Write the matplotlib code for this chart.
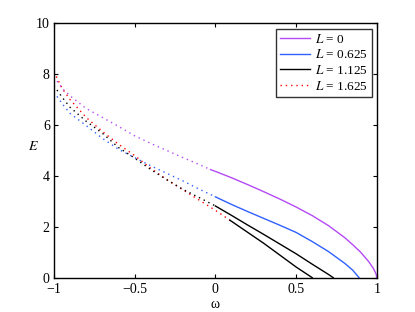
import numpy as np
import matplotlib
matplotlib.use("Agg")
import matplotlib.pyplot as plt

plt.rcParams["font.family"] = ["Liberation Serif", "DejaVu Serif"]
plt.rcParams["mathtext.fontset"] = "stix"

# Curve data: dotted branch (omega < ~0), solid branch
# L = 0
w0_dot = [-1.0, -0.95, -0.9, -0.8, -0.7, -0.6, -0.5, -0.4, -0.3, -0.2, -0.1, -0.03]
e0_dot = [7.9, 7.45, 7.15, 6.65, 6.3, 5.95, 5.58, 5.28, 5.0, 4.72, 4.45, 4.25]
w0_sol = [-0.03, 0.0, 0.1, 0.2, 0.3, 0.4, 0.5, 0.6, 0.7, 0.8, 0.85, 0.9, 0.95, 0.98, 0.995, 1.0]
e0_sol = [4.25, 4.18, 3.93, 3.66, 3.38, 3.09, 2.78, 2.44, 2.05, 1.58, 1.3, 1.0, 0.63, 0.35, 0.15, 0.0]

# L = 0.625
w1_dot = [-1.0, -0.95, -0.9, -0.8, -0.7, -0.6, -0.5, -0.4, -0.3, -0.2, -0.1, 0.0]
e1_dot = [7.3, 6.85, 6.46, 5.98, 5.48, 5.05, 4.72, 4.4, 4.1, 3.8, 3.48, 3.18]
w1_sol = [0.0, 0.1, 0.2, 0.3, 0.4, 0.5, 0.6, 0.7, 0.8, 0.85, 0.89]
e1_sol = [3.18, 2.88, 2.6, 2.33, 2.06, 1.78, 1.42, 1.03, 0.57, 0.3, 0.0]

# L = 1.125
w2_dot = [-1.0, -0.95, -0.9, -0.8, -0.7, -0.6, -0.5, -0.4, -0.3, -0.2, -0.1, 0.0]
e2_dot = [7.55, 7.1, 6.7, 6.15, 5.68, 5.12, 4.7, 4.25, 3.85, 3.47, 3.15, 2.82]
w2_sol = [0.0, 0.1, 0.2, 0.3, 0.4, 0.5, 0.6, 0.7, 0.73]
e2_sol = [2.82, 2.45, 2.07, 1.7, 1.32, 0.94, 0.53, 0.13, 0.0]

# L = 1.625
w3_dot = [-1.0, -0.95, -0.9, -0.8, -0.7, -0.6, -0.5, -0.4, -0.3, -0.2, -0.1, 0.0, 0.09]
e3_dot = [8.1, 7.45, 7.0, 6.3, 5.75, 5.25, 4.8, 4.3, 3.85, 3.45, 3.05, 2.65, 2.26]
w3_sol = [0.09, 0.3, 0.5, 0.6]
e3_sol = [2.26, 1.35, 0.42, 0.0]

labels = ["0", "0.625", "1.125", "1.625"]
purple = "#b44af5"
blue = "#3060ff"
dots = (0, (1, 2.8))

fig = plt.figure(figsize=(4.15, 3.12), dpi=100)
ax = fig.add_axes([0.13, 0.11, 0.778, 0.815])

ax.plot(w0_sol, e0_sol, color=purple, lw=1.0, label="$L$ = " + labels[0])
ax.plot(w1_sol, e1_sol, color=blue, lw=1.0, label="$L$ = " + labels[1])
ax.plot(w2_sol, e2_sol, color="black", lw=1.0, label="$L$ = " + labels[2])
ax.plot(w3_dot, e3_dot, color="red", lw=1.0, ls=dots, label="$L$ = " + labels[3])
ax.plot(w3_sol, e3_sol, color="black", lw=1.0)
ax.plot(w0_dot, e0_dot, color=purple, lw=1.0, ls=dots)
ax.plot(w1_dot, e1_dot, color=blue, lw=1.0, ls=dots)
ax.plot(w2_dot, e2_dot, color="black", lw=1.0, ls=dots)

ax.set_xlim(-1, 1)
ax.set_ylim(0, 10)
ax.set_xticks([-1, -0.5, 0, 0.5, 1])
ax.set_xticklabels(["\u22121", "\u22120.5", "0", "0.5", "1"])
ax.set_yticks([0, 2, 4, 6, 8, 10])
ax.tick_params(direction="in", top=True, right=True, length=3, width=0.8,
               labelsize=10)
ax.tick_params(axis="x", pad=4)
ax.tick_params(axis="y", pad=3)
for s in ax.spines.values():
    s.set_linewidth(1.0)
ax.set_xlabel("\u03c9", fontsize=10, labelpad=1)
ax.set_ylabel("$E$", fontsize=10, rotation=0)
ax.yaxis.set_label_coords(-0.065, 0.49)

leg = ax.legend(loc="upper right", fontsize=9.5, frameon=True, fancybox=False,
                edgecolor="black", handlelength=2.3, handletextpad=0.35,
                labelspacing=0.2, borderpad=0.3, borderaxespad=0.4)
leg.get_frame().set_linewidth(1.0)

fig.savefig("out.png", dpi=100)
